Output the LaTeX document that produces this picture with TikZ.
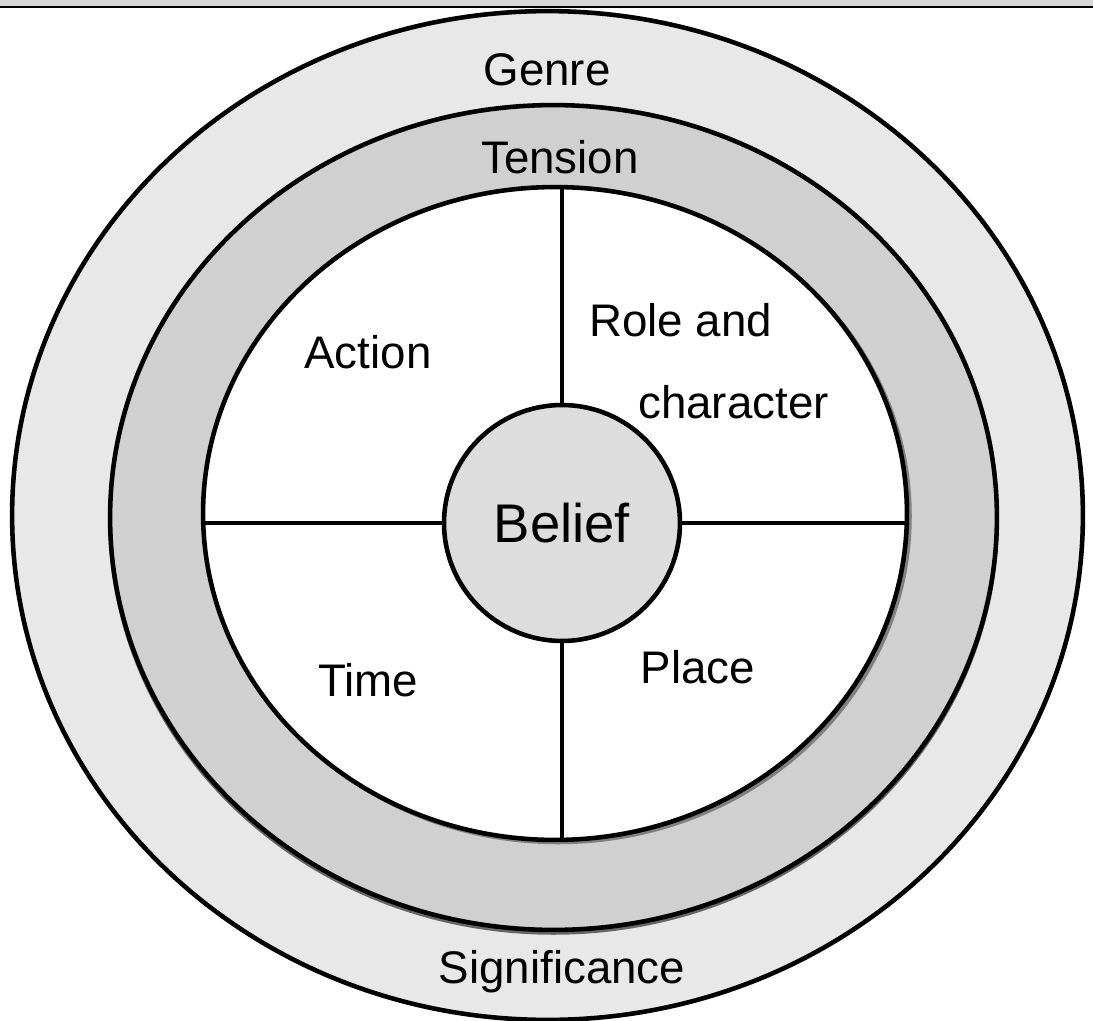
\documentclass[tikz,border=0pt]{standalone}
\usepackage{fontspec}
\setmainfont{Liberation Sans}
\usepackage{tikz}
\usetikzlibrary{shapes.geometric, positioning, calc}
\definecolor{BarGray}{RGB}{214,214,214}
\definecolor{GenreGray}{RGB}{232,232,232}
\definecolor{TensionGray}{RGB}{208,208,208}
\definecolor{BeliefGray}{RGB}{221,221,221}

\begin{document}
\begin{tikzpicture}[x=0.02cm, y=-0.02cm,
	ring/.style={ellipse,draw=black,line width=2.6pt,inner sep=0pt},
	lbl/.style={font=\fontsize{26}{30}\selectfont,inner sep=0pt}]
\useasboundingbox (0,0) rectangle (1093,1021);
\fill[white] (0,0) rectangle (1093,1021);
% window bar
\fill[BarGray] (0,0) rectangle (1093,7);
\draw[line width=1.4pt] (0,7) -- (1093,7);
% rings
\node[ring,fill=GenreGray,minimum width=21.42cm,minimum height=20.18cm] (genre) at (547.5,515.5) {};
\draw[gray!80!black,line width=2pt] (553.5,520.5) ellipse [x radius=443.5, y radius=412.5];
\node[ring,fill=TensionGray,minimum width=17.74cm,minimum height=16.5cm] (tension) at (553.5,517.5) {};
\draw[gray,line width=2pt] (558,516) ellipse [x radius=352, y radius=326.5];
\node[ring,fill=white,minimum width=14.08cm,minimum height=13.06cm] (inner) at (555,513.5) {};
% centre
\node[circle,draw=black,line width=2.6pt,fill=BeliefGray,minimum size=4.72cm,inner sep=0pt,
	font=\fontsize{31}{36}\selectfont] (belief) at (562,523) {Belief};
% dividers
\draw[line width=2.2pt] (belief.north) -- (belief.north |- inner.north);
\draw[line width=2.2pt] (belief.south) -- (belief.south |- inner.south);
\draw[line width=2.2pt] (belief.west) -- (belief.west -| inner.west);
\draw[line width=2.2pt] (belief.east) -- (belief.east -| inner.east);
% labels
\node[lbl] (lgenre) at (547,70) {Genre};
\node[lbl] (ltension) at (560,157) {Tension};
\node[lbl] (lsig) at (562,972) {Significance};
\node[lbl] (laction) at (368,352) {Action};
\node[lbl,anchor=west] (lrole) at (589,320) {Role and};
\node[lbl,anchor=west] (lchar) at (638,402) {character};
\node[lbl] (ltime) at (368,680) {Time};
\node[lbl] (lplace) at (698,667) {Place};
\end{tikzpicture}
\end{document}
